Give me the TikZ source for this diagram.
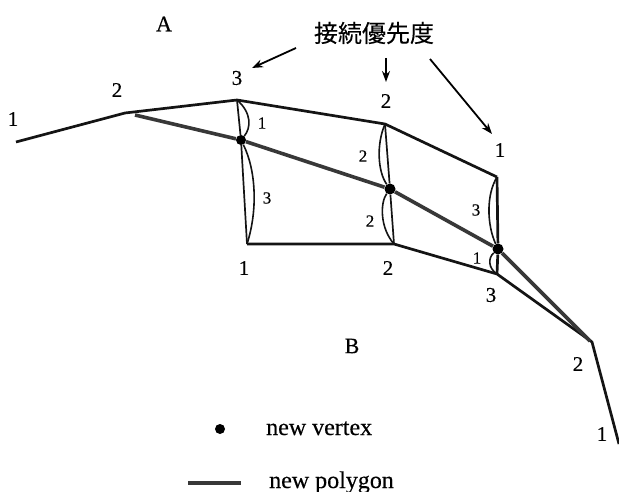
\documentclass[tikz,border=0pt]{standalone}
\usepackage{fontspec}
\setmainfont[FakeBold=0.35]{Liberation Serif}
\newfontfamily\cjk[FakeBold=0.15]{Noto Sans CJK JP}
\usetikzlibrary{arrows.meta}
\tikzset{
  edgeline/.style={line width=2.7pt,black!92,line join=round},
  thinline/.style={line width=1.7pt,black!92},
  arcline/.style={line width=1.6pt,black!92},
  polyline/.style={line width=3.6pt,black!78,line join=round},
  pointer/.style={line width=1.8pt,-{Stealth[length=11pt,width=8pt]}},
  vertexdot/.style={circle,fill=black,inner sep=0pt,minimum size=10pt},
  numlabel/.style={font=\fontsize{21}{21}\selectfont,inner sep=0pt},
  smalllabel/.style={font=\fontsize{17}{17}\selectfont,inner sep=0pt},
  textlabel/.style={font=\fontsize{22}{22}\selectfont,inner sep=0pt},
  legendlabel/.style={font=\fontsize{24}{24}\selectfont,inner sep=0pt}
}
\begin{document}
\begin{tikzpicture}[x=1pt,y=-1pt]
\useasboundingbox (0,0) rectangle (619,492);
% outline vertices
\coordinate (a1) at (16,142);
\coordinate (a2) at (125,113);
\coordinate (a3) at (237,100);
\coordinate (a4) at (385,124);
\coordinate (a5) at (497,177);
\coordinate (b1) at (247,244);
\coordinate (b2) at (394,244);
\coordinate (b3) at (497,274);
\coordinate (b4) at (592,342);
\coordinate (b5) at (619,444);
\coordinate (p0) at (135,115);
\coordinate (p4) at (590,341);
% new vertices
\node[vertexdot] (v1) at (241,140) {};
\node[vertexdot,minimum size=11pt] (v2) at (390,189) {};
\node[vertexdot,minimum size=11pt] (v3) at (498,249) {};
% outlines
\draw[edgeline] (a1) -- (a2) -- (a3) -- (a4) -- (a5);
\draw[edgeline] (b1) -- (b2) -- (b3) -- (b4) -- (b5);
\draw[thinline] (a3) -- (v1) -- (b1);
\draw[thinline] (a4) -- (v2) -- (b2);
\draw[edgeline] (a5) -- (v3) -- (b3);
% new polygon
\draw[polyline] (p0) -- (v1) -- (v2) -- (v3) -- (p4);
% arcs
\draw[arcline] (a3) .. controls (252,113) and (251,128) .. (v1);
\draw[arcline] (v1) .. controls (256,170) and (258,210) .. (b1);
\draw[arcline] (a4) .. controls (376,145) and (378,172) .. (v2);
\draw[arcline] (v2) .. controls (380,203) and (380,228) .. (b2);
\draw[arcline] (a5) .. controls (486,195) and (487,225) .. (v3);
\draw[arcline] (v3) .. controls (488,258) and (488,268) .. (b3);
% numbers
\node[numlabel] (n1) at (13,119) {1};
\node[numlabel] (n2) at (117,90) {2};
\node[numlabel] (n3) at (237,78) {3};
\node[numlabel] (n4) at (386,101) {2};
\node[numlabel] (n5) at (500,150) {1};
\node[numlabel] (n6) at (244,268) {1};
\node[numlabel] (n7) at (388,268) {2};
\node[numlabel] (n8) at (491,295) {3};
\node[numlabel] (n9) at (578,364) {2};
\node[numlabel] (n10) at (602,434) {1};
\node[smalllabel] (s1) at (262,123) {1};
\node[smalllabel] (s2) at (267,198) {3};
\node[smalllabel] (s3) at (363,156) {2};
\node[smalllabel] (s4) at (370,221) {2};
\node[smalllabel] (s5) at (476,210) {3};
\node[smalllabel] (s6) at (477,258) {1};
\node[textlabel] (A) at (164,24) {A};
\node[textlabel] (B) at (352,346) {B};
\node[inner sep=0pt,font=\cjk\fontsize{24}{24}\selectfont] (title) at (374,33) {接続優先度};
% pointers
\coordinate (t1) at (296,48);
\coordinate (t2) at (386,58);
\coordinate (t3) at (430,59);
\coordinate (h1) at (252,68);
\coordinate (h2) at (386,82);
\coordinate (h3) at (492,134);
\draw[pointer] (t1) -- (h1);
\draw[pointer] (t2) -- (h2);
\draw[pointer] (t3) -- (h3);
% legend
\node[vertexdot] (ld) at (220,429) {};
\node[legendlabel,anchor=base west] (lv) at (266,435) {new vertex};
\coordinate (l1) at (188,483);
\coordinate (l2) at (241,483);
\draw[polyline] (l1) -- (l2);
\node[legendlabel,anchor=base west] (lp) at (269,488) {new polygon};
\end{tikzpicture}
\end{document}
